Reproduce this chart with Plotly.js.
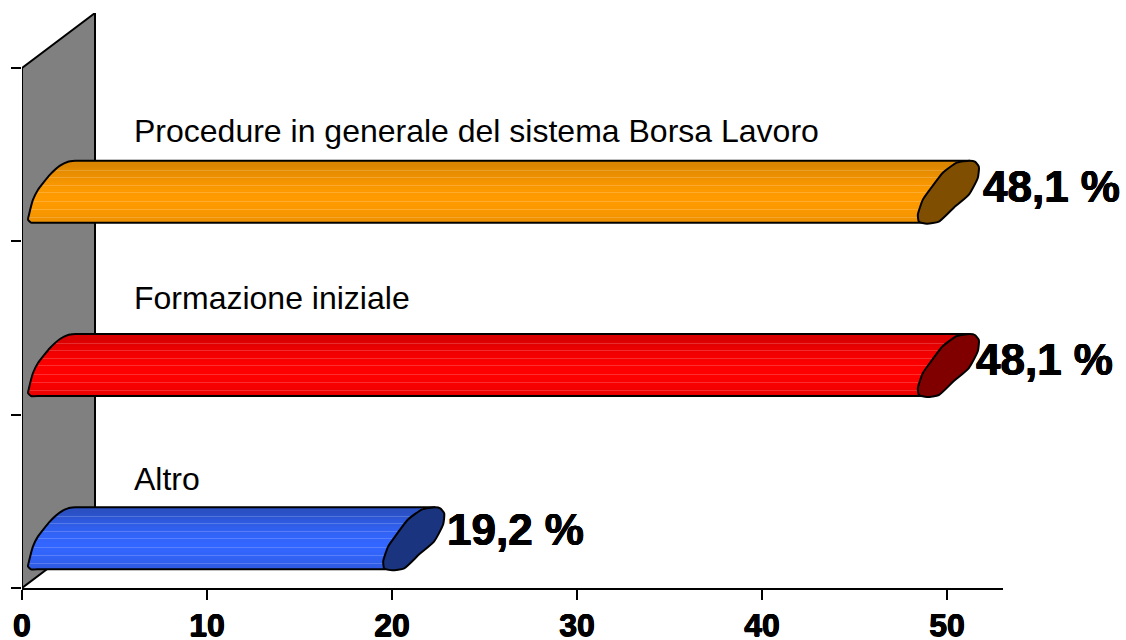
<!DOCTYPE html>
<html>
<head>
<meta charset="utf-8">
<script src="https://cdn.plot.ly/plotly-3.0.1.min.js"></script>
<style>html,body{margin:0;padding:0;background:#fff}#chart{width:1126px;height:640px}</style>
</head>
<body>
<div id="chart"></div>
<script>
// ---- data, bottom to top ----
const categories = ["Altro", "Formazione iniziale", "Procedure in generale del sistema Borsa Lavoro"];
const values = [19.2, 48.1, 48.1];
const valueLabels = ["19,2 %", "48,1 %", "48,1 %"];
const xTicks = [0, 10, 20, 30, 40, 50];

// ---- styles ----
const bodyBright = ["#3366FF", "#FF0000", "#FF9B00"];
const bodyDark = ["#2A50C4", "#D80000", "#DC8600"];
const capColors = ["#1A347F", "#800000", "#804E00"];
const labelShiftX = [3.72, 3.42, 3.80];   // value label, units right of the value
const labelRaisePx = [9, 6, 5];           // value label, px above the cylinder centre
const catRaisePx = [22, 30, 24];          // category label, px above the band centre

// ---- scale of the 3D look ----
const W = 1126, H = 640, L = 22, R = 1003, T = 13, B = 588;
const pxX = 18.5, pxY = 173.33;
const xMax = (R - L) / pxX, yMax = (B - T) / pxY;
const dxDepth = 73 / pxX, dyDepth = 55 / pxY;
const centerDrop = 37, halfH = 31;
const thick = "0.5px 0 0 #000, -0.5px 0 0 #000, 0 0.4px 0 #000, 0 -0.4px 0 #000";

// Outline profiles in px: [offset along x, offset from top of the cylinder]
const leftEdge = [[53,0],[46,1],[38,5],[28,14],[16,29],[11,39],[7,54],[6,59],[9,62],[15,62]];
const capFront = [[45,2],[31,12],[18,29],[11,39],[6,54],[7,61]];
const capRing = [[45,2],[58,0],[63,1],[67,6],[66,17],[57,34],[42,47],[27,61],[15,63],[7,61],[6,54],[11,39],[18,29],[31,12],[45,2]];

function interp(prof, t) {
  if (t <= prof[0][1]) return prof[0][0];
  for (let i = 1; i < prof.length; i++) {
    if (t <= prof[i][1]) {
      const a = prof[i - 1], b = prof[i];
      return a[0] + (b[0] - a[0]) * (t - a[1]) / (b[1] - a[1] || 1);
    }
  }
  return prof[prof.length - 1][0];
}
const rgbOf = c => [1, 3, 5].map(i => parseInt(c.substr(i, 2), 16));
const mixRgb = (a, b, k) => a.map((v, i) => Math.round(v + (b[i] - v) * k));
const css = a => "rgb(" + a.join(",") + ")";
const lightRows = [9, 16, 24, 31, 40, 48, 56];

const traces = [];
values.forEach((v, i) => {
  const yTop = (i + 0.5) - (centerDrop - halfH) / pxY;
  const rows = [], bases = [], lens = [], cols = [];
  for (let r = 0; r < 62; r++) {
    const t = r + 0.5;
    const left = interp(leftEdge, t) / pxX;
    const right = v + interp(capFront, t) / pxX;
    rows.push(yTop - t / pxY);
    bases.push(left);
    lens.push(right - left);
    const u = Math.abs(t - 38) / 38;
    let c = mixRgb(rgbOf(bodyBright[i]), rgbOf(bodyDark[i]), Math.min(1, u * u * 1.2 + u * 0.15));
    if (lightRows.includes(r)) c = mixRgb(c, [255, 255, 255], 0.18);
    cols.push(css(c));
  }
  traces.push({
    type: "bar", orientation: "h", name: categories[i],
    y: rows, x: lens, base: bases, width: 1.35 / pxY,
    marker: { color: cols, line: { width: 0 } }, hoverinfo: "skip", showlegend: false
  });
  // rounded left end
  traces.push({
    type: "scatter", mode: "lines",
    x: leftEdge.map(p => p[0] / pxX),
    y: leftEdge.map(p => yTop - p[1] / pxY),
    line: { color: "#000", width: 2, shape: "spline", smoothing: 0.5 },
    hoverinfo: "skip", showlegend: false
  });
  // straight top and bottom edges
  traces.push({
    type: "scatter", mode: "lines",
    x: [53 / pxX, v + 58 / pxX, null, 15 / pxX, v + 15 / pxX],
    y: [yTop, yTop, null, yTop - 62 / pxY, yTop - 62 / pxY],
    line: { color: "#000", width: 2 },
    hoverinfo: "skip", showlegend: false
  });
  // end cap
  traces.push({
    type: "scatter", mode: "lines", fill: "toself", fillcolor: capColors[i],
    x: capRing.map(p => v + p[0] / pxX),
    y: capRing.map(p => yTop - p[1] / pxY),
    line: { color: "#000", width: 2, shape: "spline", smoothing: 0.5 },
    hoverinfo: "skip", showlegend: false
  });
});

const annotations = [];
values.forEach((v, i) => {
  annotations.push({
    x: v + labelShiftX[i], y: i + 0.5 - (centerDrop - labelRaisePx[i]) / pxY,
    xref: "x", yref: "y", xanchor: "left", yanchor: "middle", showarrow: false,
    text: valueLabels[i], borderpad: 0,
    font: { family: "Liberation Sans", size: 44, color: "#000", weight: 700, shadow: thick }
  });
  annotations.push({
    x: 111 / pxX, y: i + 0.5 + catRaisePx[i] / pxY,
    xref: "x", yref: "y", xanchor: "left", yanchor: "middle", showarrow: false,
    text: categories[i], borderpad: 0,
    font: { family: "Liberation Sans", size: 32, color: "#000" }
  });
});

const shapes = [
  { type: "path", layer: "below", xref: "x", yref: "y",
    path: "M 0 3 L " + dxDepth + " " + (3 + dyDepth) + " L " + dxDepth + " " + dyDepth + " L 0 0 Z",
    fillcolor: "#808080", line: { color: "#000", width: 2 } }
];

const layout = {
  width: W, height: H, showlegend: false,
  paper_bgcolor: "#fff", plot_bgcolor: "#fff",
  margin: { l: L, r: W - R, t: T, b: H - B, pad: 0 },
  barmode: "overlay", bargap: 0,
  xaxis: {
    range: [0, xMax], tickmode: "array", tickvals: xTicks, ticktext: xTicks.map(String),
    showgrid: false, zeroline: false, showline: true, linecolor: "#000", linewidth: 2,
    ticks: "outside", ticklen: 10, tickwidth: 2, tickcolor: "#000", ticklabelstandoff: -2,
    tickfont: { family: "Liberation Sans", size: 32, color: "#000", weight: 700, shadow: thick }
  },
  yaxis: {
    range: [0, yMax], tickmode: "array", tickvals: [0, 1, 2, 3], ticktext: ["", "", "", ""],
    showgrid: false, zeroline: false, showline: false,
    ticks: "outside", ticklen: 10, tickwidth: 2, tickcolor: "#000"
  },
  shapes: shapes, annotations: annotations
};
Plotly.newPlot("chart", traces, layout, { displayModeBar: false, staticPlot: true });
</script>
</body>
</html>
